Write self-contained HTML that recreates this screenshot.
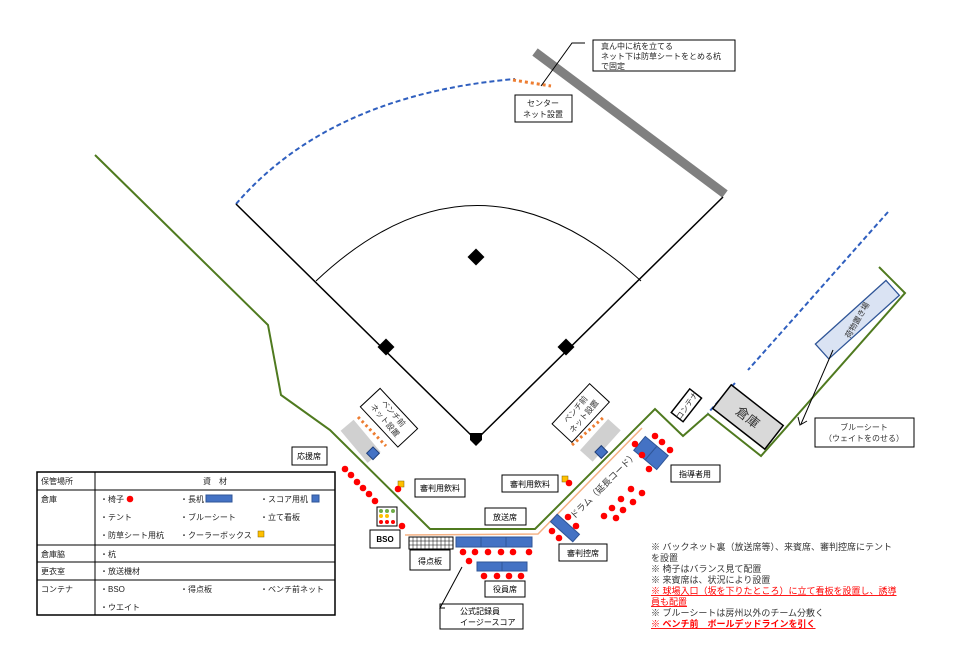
<!DOCTYPE html>
<html><head><meta charset="utf-8"><style>
body{margin:0;background:#fff;}
svg{display:block;font-family:"Liberation Sans","Noto Sans CJK JP",sans-serif;}
</style></head><body>
<svg width="953" height="651" viewBox="0 0 953 651" xmlns="http://www.w3.org/2000/svg">
<!-- outfield -->
<path d="M236,204 Q330,95 515,79" fill="none" stroke="#2f5fbf" stroke-width="2" stroke-dasharray="5,3"/>
<line x1="513" y1="80" x2="551" y2="86" stroke="#ed7d31" stroke-width="3" stroke-dasharray="3,3"/>
<line x1="535" y1="52" x2="725" y2="194" stroke="#808080" stroke-width="9"/>
<polyline points="236,204 476,440 723,197" fill="none" stroke="#000" stroke-width="1.5"/>
<path d="M316,281 Q476,130 641,281" fill="none" stroke="#000" stroke-width="1"/>
<rect x="470" y="251" width="12" height="12" transform="rotate(45 476 257)" fill="#000"/>
<rect x="380" y="341" width="12" height="12" transform="rotate(45 386 347)" fill="#000"/>
<rect x="560" y="341" width="12" height="12" transform="rotate(45 566 347)" fill="#000"/>
<polygon points="470,433 482,433 482,440 476,446 470,440" fill="#000"/>
<!-- green fence -->
<polyline points="95,155 268,325 281,395 330,430 430,529 535,529 655,409 683,436 708,414 761,456 905,293 879,267" fill="none" stroke="#4f7a1f" stroke-width="2"/>
<line x1="888" y1="212" x2="748" y2="370" stroke="#2f5fbf" stroke-width="2" stroke-dasharray="5,3"/>
<line x1="735" y1="383" x2="708" y2="413" stroke="#2f5fbf" stroke-width="2" stroke-dasharray="5,3"/>
<!-- orange cord -->
<polyline points="405,535 538,534 642,428" fill="none" stroke="#f4b183" stroke-width="1.5"/>
<text x="598" y="480" dy="11" font-size="9" fill="#333" transform="rotate(-45 598 480)" text-anchor="middle">ドラム（延長コード）</text>
<!-- top callout -->
<rect x="593" y="40" width="142" height="31" fill="#fff" stroke="#000"/>
<text font-size="8" fill="#222"><tspan x="601" y="49">真ん中に杭を立てる</tspan><tspan x="601" y="59">ネット下は防草シートをとめる杭</tspan><tspan x="601" y="69">で固定</tspan></text>
<polyline points="541,86 572,43 585,43" fill="none" stroke="#000"/>
<rect x="515" y="95" width="57" height="27" fill="#fff" stroke="#000"/>
<text font-size="8" fill="#222" text-anchor="middle"><tspan x="543" y="106">センター</tspan><tspan x="543" y="117">ネット設置</tspan></text>
<!-- left bench -->
<rect x="340" y="433" width="42" height="17" fill="#d0d0d0" transform="rotate(50 361 441)"/>
<line x1="358" y1="417" x2="386" y2="446" stroke="#ed7d31" stroke-width="3" stroke-dasharray="2.5,3"/>
<rect x="368" y="449" width="9" height="9" fill="#4472c4" stroke="#1f3f7a" transform="rotate(45 373 454)"/>
<rect x="362" y="404" width="55" height="27" fill="#fff" stroke="#000" transform="rotate(47 389 417)"/>
<text font-size="8" fill="#333" text-anchor="middle" transform="rotate(50 389 417)"><tspan x="389" y="414">ベンチ前</tspan><tspan x="389" y="425">ネット設置</tspan></text>
<!-- right bench -->
<rect x="579" y="432" width="42" height="17" fill="#d0d0d0" transform="rotate(-48 600 440)"/>
<line x1="572" y1="445" x2="604" y2="417" stroke="#ed7d31" stroke-width="3" stroke-dasharray="2.5,3"/>
<rect x="597" y="447" width="9" height="9" fill="#4472c4" stroke="#1f3f7a" transform="rotate(-45 602 452)"/>
<rect x="553" y="400" width="55" height="27" fill="#fff" stroke="#000" transform="rotate(-47 580 413)"/>
<text font-size="8" fill="#333" text-anchor="middle" transform="rotate(-50 580 413)"><tspan x="580" y="410">ベンチ前</tspan><tspan x="580" y="421">ネット設置</tspan></text>
<!-- boxes right -->
<rect x="671" y="398" width="30" height="15" fill="#fff" stroke="#000" stroke-width="1.5" transform="rotate(-52 686 405)"/>
<text x="686" y="409" font-size="8" text-anchor="middle" fill="#333" transform="rotate(-55 686 405)">コンテナ</text>
<rect x="715" y="402" width="66" height="30" fill="#d9d9d9" stroke="#000" stroke-width="1.5" transform="rotate(38 748 417)"/>
<text x="748" y="422" font-size="13" text-anchor="middle" fill="#333" transform="rotate(38 748 417)">倉庫</text>
<rect x="810" y="310" width="95" height="20" fill="#dae3f3" stroke="#2f5597" stroke-width="1.3" transform="rotate(-42 857 320)"/>
<text x="857" y="323" font-size="8" text-anchor="middle" fill="#333" transform="rotate(-60 857 320)">荷物置き場</text>
<line x1="833" y1="350" x2="801" y2="424" stroke="#000"/>
<polyline points="798,417 800,425 807,421" fill="none" stroke="#000"/>
<rect x="815" y="418" width="99" height="29" fill="#fff" stroke="#000"/>
<text font-size="8" fill="#333" text-anchor="middle"><tspan x="864" y="430">ブルーシート</tspan><tspan x="864" y="441">（ウェイトをのせる）</tspan></text>
<!-- labels -->
<rect x="292" y="447" width="35" height="18" fill="#fff" stroke="#000"/><text x="309" y="459" font-size="8" text-anchor="middle">応援席</text>
<rect x="415" y="479" width="50" height="18" fill="#fff" stroke="#000"/><text x="440" y="491" font-size="8" text-anchor="middle">審判用飲料</text>
<rect x="502" y="475" width="56" height="17" fill="#fff" stroke="#000"/><text x="530" y="487" font-size="8" text-anchor="middle">審判用飲料</text>
<rect x="485" y="508" width="41" height="17" fill="#fff" stroke="#000"/><text x="505" y="520" font-size="8" text-anchor="middle">放送席</text>
<rect x="370" y="530" width="30" height="18" fill="#fff" stroke="#000"/><text x="385" y="542" font-size="8" font-weight="bold" text-anchor="middle">BSO</text>
<rect x="377" y="507" width="20" height="19" fill="#fff" stroke="#000"/>
<g><circle cx="381" cy="511" r="2" fill="#70ad47"/><circle cx="387" cy="511" r="2" fill="#70ad47"/><circle cx="393" cy="511" r="2" fill="#70ad47"/><circle cx="381" cy="516" r="2" fill="#ffc000"/><circle cx="387" cy="516" r="2" fill="#ffc000"/><circle cx="381" cy="522" r="2" fill="#f00"/><circle cx="387" cy="522" r="2" fill="#f00"/><circle cx="393" cy="522" r="2" fill="#f00"/></g>
<rect x="409" y="537" width="44" height="12" fill="#fff" stroke="#000"/>
<path d="M413,537v12M417,537v12M421,537v12M425,537v12M429,537v12M433,537v12M437,537v12M441,537v12M445,537v12M449,537v12M409,541h44M409,545h44" stroke="#000" stroke-width="0.5"/>
<rect x="410" y="550" width="40" height="20" fill="#fff" stroke="#000"/><text x="430" y="564" font-size="8" text-anchor="middle">得点板</text>
<rect x="456" y="537" width="25" height="10" fill="#4472c4" stroke="#2f5597"/><rect x="481" y="537" width="25" height="10" fill="#4472c4" stroke="#2f5597"/><rect x="506" y="537" width="26" height="10" fill="#4472c4" stroke="#2f5597"/>
<rect x="477" y="562" width="25" height="9" fill="#4472c4" stroke="#2f5597"/><rect x="502" y="562" width="25" height="9" fill="#4472c4" stroke="#2f5597"/>
<rect x="485" y="581" width="40" height="16" fill="#fff" stroke="#000"/><text x="505" y="592" font-size="8" text-anchor="middle">役員席</text>
<rect x="440" y="604" width="83" height="25" fill="#fff" stroke="#000"/>
<text font-size="8"><tspan x="460" y="614">公式記録員</tspan><tspan x="460" y="625">イージースコア</tspan></text>
<polyline points="445,608 440,608 462,567" fill="none" stroke="#000"/>
<rect x="559" y="544" width="48" height="17" fill="#fff" stroke="#000"/><text x="583" y="556" font-size="8" text-anchor="middle">審判控席</text>
<rect x="671" y="465" width="49" height="17" fill="#fff" stroke="#000"/><text x="695" y="477" font-size="8" text-anchor="middle">指導者用</text>
<rect x="550" y="523" width="30" height="10" fill="#4472c4" stroke="#2f5597" transform="rotate(42 565 528)"/>
<rect x="636" y="444" width="30" height="18" fill="#4472c4" stroke="#2f5597" transform="rotate(40 651 453)"/>
<line x1="645" y1="460" x2="657" y2="446" stroke="#2f5597"/>
<!-- yellow -->
<rect x="398" y="481" width="6" height="6" fill="#ffc000" stroke="#7f6000" stroke-width="0.5"/>
<rect x="562" y="476" width="6" height="6" fill="#ffc000" stroke="#7f6000" stroke-width="0.5"/>
<!-- red dots -->
<g fill="#f00">
<circle cx="345" cy="469" r="3.3"/><circle cx="351" cy="475" r="3.3"/><circle cx="357" cy="482" r="3.3"/><circle cx="363" cy="488" r="3.3"/><circle cx="369" cy="494" r="3.3"/><circle cx="375" cy="501" r="3.3"/>
<circle cx="398" cy="489" r="3.3"/><circle cx="402" cy="526" r="3.3"/>
<circle cx="463" cy="552" r="3.3"/><circle cx="475" cy="552" r="3.3"/><circle cx="488" cy="552" r="3.3"/><circle cx="501" cy="552" r="3.3"/><circle cx="513" cy="552" r="3.3"/><circle cx="529" cy="552" r="3.3"/><circle cx="469" cy="561" r="3.3"/>
<circle cx="484" cy="576" r="3.3"/><circle cx="497" cy="576" r="3.3"/><circle cx="509" cy="576" r="3.3"/><circle cx="521" cy="576" r="3.3"/>
<circle cx="569" cy="483" r="3.3"/>
<circle cx="552" cy="531" r="3.3"/><circle cx="559" cy="538" r="3.3"/><circle cx="568" cy="517" r="3.3"/><circle cx="576" cy="526" r="3.3"/>
<circle cx="604" cy="516" r="3.3"/><circle cx="612" cy="508" r="3.3"/><circle cx="616" cy="518" r="3.3"/><circle cx="621" cy="499" r="3.3"/><circle cx="623" cy="510" r="3.3"/><circle cx="631" cy="489" r="3.3"/><circle cx="633" cy="502" r="3.3"/><circle cx="642" cy="493" r="3.3"/>
<circle cx="655" cy="436" r="3.3"/><circle cx="662" cy="442" r="3.3"/><circle cx="670" cy="450" r="3.3"/><circle cx="649" cy="469" r="3.3"/><circle cx="642" cy="455" r="3.3"/><circle cx="635" cy="444" r="3.3"/>
</g>
<!-- table -->
<g stroke="#000" fill="none" stroke-width="1">
<rect x="37" y="472" width="298" height="143" stroke-width="1.5"/>
<line x1="95" y1="472" x2="95" y2="615"/>
<line x1="37" y1="490" x2="335" y2="490"/><line x1="37" y1="545" x2="335" y2="545"/><line x1="37" y1="562" x2="335" y2="562"/><line x1="37" y1="580" x2="335" y2="580"/>
</g>
<g font-size="8" fill="#222">
<text x="41" y="484">保管場所</text><text x="215" y="484" text-anchor="middle">資　材</text>
<text x="41" y="502">倉庫</text>
<text x="100" y="502">・椅子</text><text x="180" y="502">・長机</text><text x="260" y="502">・スコア用机</text>
<text x="100" y="520">・テント</text><text x="180" y="520">・ブルーシート</text><text x="260" y="520">・立て看板</text>
<text x="100" y="538">・防草シート用杭</text><text x="180" y="538">・クーラーボックス</text>
<text x="41" y="557">倉庫脇</text><text x="100" y="557">・杭</text>
<text x="41" y="574">更衣室</text><text x="100" y="574">・放送機材</text>
<text x="41" y="592">コンテナ</text><text x="100" y="592">・BSO</text><text x="180" y="592">・得点板</text><text x="260" y="592">・ベンチ前ネット</text>
<text x="100" y="610">・ウエイト</text>
</g>
<circle cx="130" cy="499" r="3.3" fill="#f00"/>
<rect x="206" y="495" width="26" height="7" fill="#4472c4" stroke="#2f5597"/>
<rect x="312" y="495" width="7" height="7" fill="#4472c4" stroke="#2f5597"/>
<rect x="258" y="531" width="6" height="6" fill="#ffc000" stroke="#7f6000" stroke-width="0.5"/>
<!-- notes -->
<g font-size="9" fill="#333">
<text x="651" y="550">※ バックネット裏（放送席等）、来賓席、審判控席にテント</text>
<text x="651" y="561">を設置</text>
<text x="651" y="572">※ 椅子はバランス見て配置</text>
<text x="651" y="583">※ 来賓席は、状況により設置</text>
<text x="651" y="594" fill="#f00" text-decoration="underline">※ 球場入口（坂を下りたところ）に立て看板を設置し、誘導</text>
<text x="651" y="605" fill="#f00" text-decoration="underline">員も配置</text>
<text x="651" y="616">※ ブルーシートは房州以外のチーム分敷く</text>
<text x="651" y="627" fill="#f00" font-weight="bold" text-decoration="underline">※ ベンチ前　ボールデッドラインを引く</text>
</g>
</svg>
</body></html>
